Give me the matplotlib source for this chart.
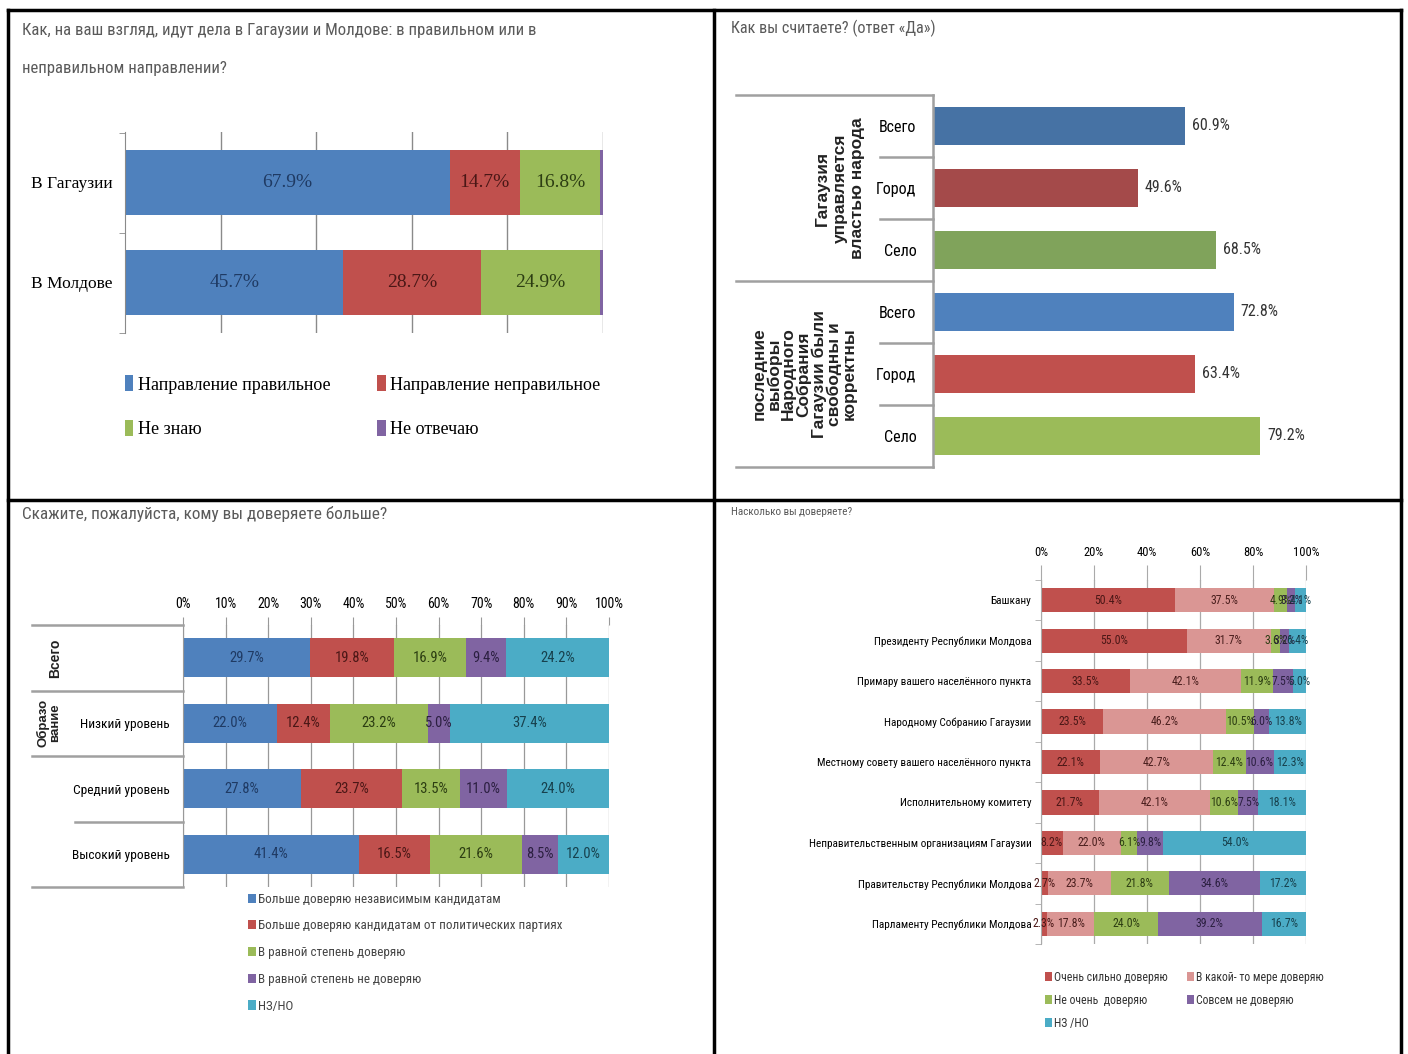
import matplotlib
matplotlib.use('Agg')
import matplotlib.pyplot as plt
from matplotlib.lines import Line2D
import numpy as np

# ---------- данные ----------

# 1. Направление дел
dir_rows = ['В Гагаузии', 'В Молдове']
dir_series = ['Направление правильное', 'Направление неправильное', 'Не знаю', 'Не отвечаю']
dir_values = [
    [67.9, 45.7],   # правильное
    [14.7, 28.7],   # неправильное
    [16.8, 24.9],   # не знаю
    [0.6, 0.7],     # не отвечаю
]

# 2. Ответ «Да»
yes_rows = ['Всего', 'Город', 'Село', 'Всего', 'Город', 'Село']
yes_values = [60.9, 49.6, 68.5, 72.8, 63.4, 79.2]
yes_groups = ['Гагаузия\nуправляется\nвластью народа',
              'последние\nвыборы\nНародного\nСобрания\nГагаузии были\nсвободны и\nкорректны']

# 3. Кому доверяете больше
more_rows = ['', 'Низкий уровень', 'Средний уровень', 'Высокий уровень']
more_series = ['Больше доверяю независимым кандидатам',
               'Больше доверяю кандидатам от политических партиях',
               'В равной степень доверяю',
               'В равной степень не доверяю',
               'НЗ/НО']
more_values = [
    [29.7, 22.0, 27.8, 41.4],
    [19.8, 12.4, 23.7, 16.5],
    [16.9, 23.2, 13.5, 21.6],
    [9.4, 5.0, 11.0, 8.5],
    [24.2, 37.4, 24.0, 12.0],
]

# 4. Насколько доверяете
trust_rows = ['Башкану', 'Президенту Республики Молдова', 'Примару вашего населённого пункта',
              'Народному Собранию Гагаузии', 'Местному совету вашего населённого пункта',
              'Исполнительному комитету', 'Неправительственным организациям Гагаузии',
              'Правительству Республики Молдова', 'Парламенту Республики Молдова']
trust_series = ['Очень сильно доверяю', 'В какой- то мере доверяю', 'Не очень  доверяю',
                'Совсем не доверяю', 'НЗ /НО']
trust_values = [
    [50.4, 55.0, 33.5, 23.5, 22.1, 21.7, 8.2, 2.7, 2.3],
    [37.5, 31.7, 42.1, 46.2, 42.7, 42.1, 22.0, 23.7, 17.8],
    [4.9, 3.6, 11.9, 10.5, 12.4, 10.6, 6.1, 21.8, 24.0],
    [3.2, 3.2, 7.5, 6.0, 10.6, 7.5, 9.8, 34.6, 39.2],
    [4.1, 6.4, 5.0, 13.8, 12.3, 18.1, 54.0, 17.2, 16.7],
]

# ---------- оформление ----------

BLUE, RED, GREEN, PURPLE, CYAN = '#4F81BD', '#C0504D', '#9BBB59', '#8064A2', '#4BACC6'
PINK = '#DA9694'
DARK = {BLUE: '#1F3A63', RED: '#4A1716', GREEN: '#2C3D12', PURPLE: '#2B1F40',
        CYAN: '#17414D', PINK: '#4A1E1D'}

NARROW = ['Roboto Condensed', 'Liberation Sans Narrow', 'Liberation Sans']
BOLD = ['Liberation Sans', 'DejaVu Sans']
SERIF = ['Liberation Serif', 'DejaVu Serif']
TITLE_C = '#5A5A5A'
LINE_C = '#A0A0A0'

W, H = 1408, 1054
fig = plt.figure(figsize=(W / 100, H / 100), dpi=100)
fig.patch.set_facecolor('white')


def px_axes(left, top, right, bottom):
    return fig.add_axes([left / W, 1 - bottom / H, (right - left) / W, (bottom - top) / H])


def fx(x):
    return x / W


def fy(y):
    return 1 - y / H


def hline(y, x0, x1, color=LINE_C, lw=1.8):
    fig.add_artist(Line2D([fx(x0), fx(x1)], [fy(y), fy(y)], color=color, lw=lw))


def vline(x, y0, y1, color='black', lw=2.5):
    fig.add_artist(Line2D([fx(x), fx(x)], [fy(y0), fy(y1)], color=color, lw=lw))


def stacked(ax, values, colors, height):
    y = np.arange(len(values[0]))
    left = np.zeros(len(y))
    bars = []
    for vals, col in zip(values, colors):
        vals = np.array(vals)
        b = ax.barh(y, vals, left=left, height=height, color=col, edgecolor='none')
        bars.append(b)
        left += vals
    return bars


def label_segments(ax, values, colors, family, size, skip=()):
    left = np.zeros(len(values[0]))
    for k, (vals, col) in enumerate(zip(values, colors)):
        for i, v in enumerate(vals):
            if k not in skip:
                ax.text(left[i] + v / 2, i, f'{v:.1f}%', ha='center', va='center',
                        color=DARK[col], family=family, fontsize=size)
        left += np.array(vals)


# рамка
vline(8, 10, 1054)
vline(714, 10, 1054)
vline(1401, 10, 1054)
fig.add_artist(Line2D([fx(8), fx(1401)], [fy(10), fy(10)], color='black', lw=2.5))
fig.add_artist(Line2D([fx(8), fx(1401)], [fy(500), fy(500)], color='black', lw=2.5))

# ========== панель 1 ==========
fig.text(fx(22), fy(30), 'Как, на ваш взгляд, идут дела в Гагаузии и Молдове: в правильном или в',
         family=NARROW, fontsize=12.1, color=TITLE_C, va='center')
fig.text(fx(22), fy(69), 'неправильном направлении?',
         family=NARROW, fontsize=12.1, color=TITLE_C, va='center')

ax1 = px_axes(125, 132, 603, 333)
c1 = [BLUE, RED, GREEN, PURPLE]
bars1 = stacked(ax1, dir_values, c1, 0.65)
label_segments(ax1, dir_values, c1, SERIF, 14, skip=(3,))
ax1.set_xlim(0, 100)
ax1.set_ylim(1.505, -0.505)
ax1.set_xticks([20, 40, 60, 80, 100])
ax1.xaxis.grid(True, color='#8A8A8A', lw=1)
ax1.set_axisbelow(True)
ax1.tick_params(axis='x', length=0, labelbottom=False)
ax1.set_yticks([-0.5, 0.5, 1.5], minor=True)
ax1.set_yticks([0, 1])
ax1.set_yticklabels(dir_rows, family=SERIF, fontsize=12.5)
ax1.tick_params(axis='y', which='major', length=0, pad=9)
ax1.tick_params(axis='y', which='minor', length=4, color='#8A8A8A')
for s in ['top', 'right', 'bottom']:
    ax1.spines[s].set_visible(False)
ax1.spines['left'].set_color('#8A8A8A')
order1 = [0, 2, 1, 3]
fig.legend([bars1[i] for i in order1], [dir_series[i] for i in order1], ncol=2,
           loc='upper left', bbox_to_anchor=(fx(109), fy(359)), frameon=False,
           prop={'family': SERIF, 'size': 13}, handlelength=0.45, handleheight=1.0,
           handletextpad=0.25, columnspacing=2.6, labelspacing=1.45)

# ========== панель 2 ==========
fig.text(fx(731), fy(28), 'Как вы считаете? (ответ «Да»)',
         family=NARROW, fontsize=11.6, color=TITLE_C, va='center')

ax2 = px_axes(933, 95, 1346, 467)
c2 = ['#4672A4', '#A44A4A', '#80A35B', BLUE, RED, GREEN]
y2 = np.arange(len(yes_values))
ax2.barh(y2, yes_values, height=0.61, color=c2)
for i, v in enumerate(yes_values):
    ax2.text(v + 1.7, i, f'{v}%', va='center', ha='left', family=NARROW,
             fontsize=11.5, color='#333333')
ax2.set_xlim(0, 100)
ax2.set_ylim(5.5, -0.5)
ax2.set_xticks([])
ax2.set_yticks(y2)
ax2.set_yticklabels(yes_rows, family=NARROW, fontsize=11.5)
ax2.tick_params(axis='y', length=0, pad=12)
for s in ['top', 'right', 'bottom']:
    ax2.spines[s].set_visible(False)
ax2.spines['left'].set_color(LINE_C)
ax2.spines['left'].set_linewidth(1.8)
for y in [95, 281, 467]:
    hline(y, 736, 933)
for y in [157, 219, 343, 405]:
    hline(y, 880, 933)
fig.text(fx(840), fy(188), yes_groups[0], rotation=90, ha='center', va='center',
         multialignment='center', family=BOLD, fontsize=12.5, weight='bold',
         color='#222222', linespacing=1.2)
fig.text(fx(804), fy(374), yes_groups[1], rotation=90, ha='center', va='center',
         multialignment='center', family=BOLD, fontsize=12.5, weight='bold',
         color='#222222', linespacing=0.98)

# ========== панель 3 ==========
fig.text(fx(22), fy(514), 'Скажите, пожалуйста, кому вы доверяете больше?',
         family=NARROW, fontsize=12.4, color=TITLE_C, va='center')

ax3 = px_axes(183, 625, 609, 887)
c3 = [BLUE, RED, GREEN, PURPLE, CYAN]
bars3 = stacked(ax3, more_values, c3, 0.6)
label_segments(ax3, more_values, c3, NARROW, 10.5)
ax3.set_xlim(0, 100)
ax3.set_ylim(3.5, -0.5)
ax3.set_xticks(np.arange(0, 101, 10))
ax3.set_xticklabels([f'{t}%' for t in range(0, 101, 10)], family=NARROW, fontsize=10)
ax3.xaxis.tick_top()
ax3.tick_params(axis='x', length=6, color='#999999', pad=4)
ax3.xaxis.grid(True, color='#999999', lw=0.9)
ax3.set_axisbelow(True)
ax3.set_yticks(range(4))
ax3.set_yticklabels(more_rows, family=NARROW, fontsize=9.6)
ax3.tick_params(axis='y', length=0, pad=9.5)
for s in ['right', 'bottom', 'top']:
    ax3.spines[s].set_visible(False)
ax3.spines['left'].set_color('#999999')
for y in [625, 690.5, 756, 887]:
    hline(y, 32, 183)
hline(821.5, 75, 183)
fig.text(fx(55), fy(658), 'Всего', rotation=90, ha='center', va='center',
         family=BOLD, fontsize=10, weight='bold', color='#222222')
fig.text(fx(49), fy(723), 'Образо\nвание', rotation=90, ha='center', va='center',
         multialignment='center', family=BOLD, fontsize=9.5, weight='bold',
         color='#222222', linespacing=1.0)
fig.legend(bars3, more_series, ncol=1, loc='upper left',
           bbox_to_anchor=(fx(236), fy(881)), frameon=False,
           prop={'family': NARROW, 'size': 9.4}, handlelength=0.6, handleheight=0.7,
           handletextpad=0.2, labelspacing=1.05, labelcolor='#444444')

# ========== панель 4 ==========
fig.text(fx(731), fy(512), 'Насколько вы доверяете?',
         family=NARROW, fontsize=8, color=TITLE_C, va='center')

ax4 = px_axes(1041, 580, 1306, 944)
c4 = [RED, PINK, GREEN, PURPLE, CYAN]
bars4 = stacked(ax4, trust_values, c4, 0.6)
label_segments(ax4, trust_values, c4, NARROW, 8.5)
ax4.set_xlim(0, 100)
ax4.set_ylim(8.5, -0.5)
ax4.set_xticks(np.arange(0, 101, 20))
ax4.set_xticklabels([f'{t}%' for t in range(0, 101, 20)], family=NARROW, fontsize=9)
ax4.xaxis.tick_top()
ax4.tick_params(axis='x', length=11, color='#AAAAAA', pad=4)
ax4.xaxis.grid(True, color='#AAAAAA', lw=0.9)
ax4.set_axisbelow(True)
ax4.set_yticks(range(len(trust_rows)))
ax4.set_yticklabels(trust_rows, family=NARROW, fontsize=8.1)
ax4.set_yticks(np.arange(-0.5, 9, 1), minor=True)
ax4.tick_params(axis='y', which='major', length=0, pad=7)
ax4.tick_params(axis='y', which='minor', length=4, color='#AAAAAA')
for s in ['right', 'bottom', 'top']:
    ax4.spines[s].set_visible(False)
ax4.spines['left'].set_color('#AAAAAA')
order4 = [0, 2, 4, 1, 3]
fig.legend([bars4[i] for i in order4], [trust_series[i] for i in order4], ncol=2,
           loc='upper left', bbox_to_anchor=(fx(1034), fy(960)), frameon=False,
           prop={'family': NARROW, 'size': 8.5}, handlelength=0.6, handleheight=0.7,
           handletextpad=0.2, labelspacing=0.85, columnspacing=1.6, labelcolor='#333333')

fig.savefig('out.png', dpi=100, facecolor='white')
